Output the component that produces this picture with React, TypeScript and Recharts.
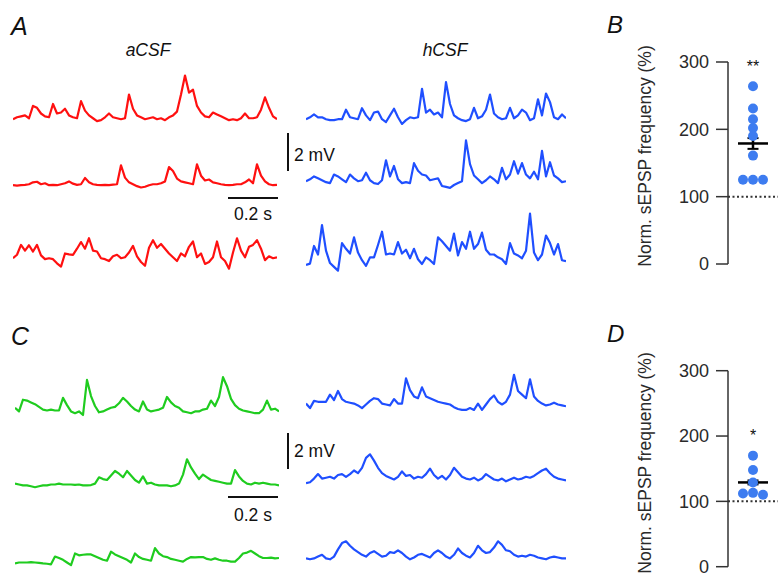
import React from "react";
import {
  LineChart,
  Line,
  XAxis,
  YAxis,
  ScatterChart,
  Scatter,
  ReferenceLine,
} from "recharts";

// ---------- Trace data (mV relative to baseline, 4 px per sample) ----------
const aCsfTrace1 = [0, 0.1, 0.15, 0.2, 0.05, 0.7, 0.6, 0.3, 0.15, 0.1, 0.8, 0.3, 0.35, 0.55, 0.2, 0.1, 0.05, 0.95, 0.45, 0.2, 0.05, -0.1, -0.05, 0.1, 0.3, 0.1, 0.05, 0, 0.05, 1.3, 0.55, 0.2, 0.1, 0, 0.05, 0.1, 0, 0.05, -0.05, 0.1, 0.2, 0.4, 1.3, 2.3, 1.4, 1.55, 0.7, 0.35, 0.15, 0.1, 0.35, 0.25, 0.15, 0.05, -0.05, 0, -0.05, 0.05, 0.3, 0.05, 0.05, 0.1, 0.5, 1.15, 0.6, 0.15, 0];
const aCsfTrace2 = [0, -0.02, 0, 0.02, 0.05, 0.15, 0.18, 0.05, 0.1, 0, 0.02, 0, 0.05, 0.1, 0.2, 0.08, 0.02, 0.05, 0.38, 0.15, 0.05, 0.02, 0, 0.02, 0, 0.03, 0.05, 1.05, 0.4, 0.15, 0.05, -0.05, -0.12, -0.08, 0, 0.05, 0.05, 0.1, 0.2, 0.95, 0.75, 0.35, 0.2, 0.15, 0.1, 0.05, 1.1, 0.5, 0.25, 0.3, 0.15, 0.1, 0.05, 0.02, 0, 0.02, 0.05, 0.05, 0.15, 0.3, 0.1, 1.1, 0.5, 0.2, 0.05, 0, 0.02];
const aCsfTrace3 = [0, 0.18, 0.7, 0.4, 0.68, 0.35, 0.7, 0.15, -0.05, 0, -0.05, -0.27, -0.44, 0.25, 0.2, 0.18, 0.5, 0.85, 0.5, 1.05, 0.4, 0.35, 0, -0.05, -0.15, 0.1, 0.18, 0, 0.05, 0.3, 0.65, 0.1, -0.2, -0.4, 0.55, 0.95, 0.55, 0.75, 0.5, 0.25, 0.05, -0.15, 0.25, 0.1, 0.6, 0.88, 0.05, 0.25, -0.3, -0.2, 0.05, 0.88, 0.05, -0.15, -0.55, 0.3, 1.05, 0.4, 0.05, 0.6, 0.7, 0.95, 0.5, -0.1, 0.1, 0, 0.05];

const hCsfTraceA1 = [0, 0.1, 0.25, 0.1, 0.1, 0, -0.05, -0.05, 0, 0, 0.5, 0.1, 0.05, 0, 0.58, 0.2, -0.05, 0.35, 0.4, 0, -0.15, 0.2, 0.55, 0.1, -0.25, -0.05, 0.1, 0.05, 0.1, 1.6, 0.35, 0.5, 0.25, 0.35, 0.1, 1.95, 0.8, 0.2, 0.05, -0.05, -0.1, 0, 0.6, 0.05, 0.15, 0.5, 1.3, 0.3, 0.1, 0, 0.05, 0.6, 0.05, 0.2, 0.5, 0.35, -0.05, 0.05, 1.05, 0.2, 1.35, 0.9, 0.1, 0, 0.25, 0.05];
const hCsfTraceA2 = [0, 0.1, 0.25, 0.15, 0.05, -0.05, -0.1, 0.35, 0.25, 0.1, -0.05, 0.35, 0.15, 0, 0.05, 0.45, 0.05, -0.1, -0.15, 0.05, 1.1, 0.25, 0.8, 0.1, -0.1, -0.05, -0.1, 0.95, 0.55, 0.35, 0.3, 0.05, 0.1, 0.15, -0.25, -0.3, -0.35, -0.2, -0.1, 0, 2.15, 0.9, 0.3, 0.1, -0.1, 0.05, 0.25, 0.1, -0.1, 0.7, 0.1, 0.35, 1.05, 0.4, 0.95, 0.35, 0.15, 0.5, 0.1, 1.6, 0.25, 1.0, 0.3, 0.15, -0.05, 0];
const hCsfTraceA3 = [-0.25, -0.18, 0.75, 0.3, 1.85, 0.5, -0.15, -0.35, -0.55, 0.9, 0.6, 0.35, 1.2, 0.4, 0, -0.3, 0.15, 0.15, 0.8, 1.5, 0.3, 0.35, 0.3, 0.95, 0.35, 0.55, 0.1, 0.6, 0.05, -0.2, 0.15, 0, -0.2, 1.2, 1.0, 0.75, 0.5, 1.4, 0.25, 0.95, 0.6, 1.5, 0.6, 0.85, 1.45, 0.55, 0.3, 0.3, 0.15, 0.05, -0.2, 0.9, 0.35, 0.25, 0.1, 0.5, 2.45, 0.4, 0, 0.3, 1.3, 0.9, 0.3, 0.85, 0, -0.05];

const ctrlTrace1 = [0.2, 0, 0.65, 0.6, 0.5, 0.4, 0.25, 0.1, 0.05, 0.1, 0.05, 0.05, 0.75, 0.35, 0, -0.1, 0, -0.2, 1.75, 0.85, 0.3, -0.05, 0, 0.1, 0.2, 0.25, 0.45, 0.75, 0.55, 0.3, 0.1, 0, 0.55, 0.1, 0, 0.05, 0.1, 0.2, 0.8, 0.5, 0.3, 0.2, 0, -0.05, -0.1, 0, 0, 0.1, 0.15, 0.6, 0.3, 0.8, 1.9, 1.4, 0.7, 0.35, 0.15, 0.05, 0, -0.05, -0.1, -0.1, 0.1, 0.6, 0.1, 0.15, 0];
const ctrlTrace2 = [0.1, 0.05, 0, 0, -0.05, -0.1, -0.05, 0, 0, 0.05, 0.05, 0.1, 0.05, 0.05, 0.05, 0.03, 0.05, 0, 0, 0.02, 0.1, 0.45, 0.35, 0.3, 0.55, 0.8, 0.65, 0.45, 0.8, 0.55, 0.3, 0.15, 0.5, 0.1, 0.15, 0.05, 0, 0, 0, -0.05, 0, 0.1, 0.6, 1.45, 1.0, 0.65, 0.35, 0.6, 0.45, 0.3, 0.25, 0.2, 0.15, 0.1, 0.1, 0.85, 0.5, 0.25, 0.1, 0.05, 0.15, 0.1, 0.15, 0.1, 0.05, 0.05, 0];
const ctrlTrace3 = [0, 0.05, 0.05, 0.05, 0.07, 0.05, 0.03, 0, -0.02, -0.05, 0.38, 0.3, 0.2, 0.05, -0.1, 0.55, 0.45, 0.48, 0.5, 0.5, 0.4, 0.3, 0.2, 0.15, 0.65, 0.5, 0.4, 0.3, 0.2, 0.05, 0.55, 0.35, 0.25, 0.2, 0.15, 0.85, 0.55, 0.4, 0.35, 0.25, 0.2, 0.15, 0.1, 0.25, 0.35, 0.33, 0.35, 0.35, 0.25, 0.2, 0.28, 0.2, 0.15, 0.15, 0.1, 0.1, 0.3, 0.55, 0.6, 0.7, 0.55, 0.4, 0.3, 0.3, 0.32, 0.28, 0.3];

const hCsfTraceC1 = [0.1, -0.15, 0.25, 0.2, 0.2, 0.2, 0.6, 0.3, 0.8, 0.35, 0.2, 0.15, 0.1, 0, -0.15, 0.05, 0.25, 0.4, 0.35, 0.1, 0.05, 0, 0.35, 0.1, 0.1, 1.5, 0.85, 0.5, 0.4, 1.0, 0.5, 0.4, 0.3, 0.2, 0.15, 0.1, 0.05, -0.1, -0.2, -0.25, -0.25, -0.15, -0.25, 0.1, -0.25, 0.05, 0.35, 0.55, 0.2, 0.05, 0.2, 0.6, 1.7, 0.8, 0.6, 0.4, 1.45, 0.5, 0.25, 0.1, 0, 0.05, 0.15, 0.05, 0, -0.05];
const hCsfTraceC2 = [-0.15, -0.1, 0.1, 0.35, 0.1, 0.15, 0.2, 0.1, 0.3, 0.35, 0.2, 0.35, 0.55, 0.4, 0.7, 1.25, 1.45, 1.1, 0.7, 0.4, 0.25, 0.15, 0.05, 0.2, 0.5, 0.25, 0.3, 0.1, 0.2, 0.15, 0.35, 0.65, 0.3, 0.1, 0.25, 0.05, 0.3, 0.7, 0.45, 0.2, 0.1, 0.05, 0.15, 0, 0.1, 0.35, 0.2, 0.05, 0, 0.1, -0.05, 0.05, 0.15, 0.05, 0.1, 0.2, 0.15, 0.25, 0.4, 0.55, 0.65, 0.4, 0.2, 0.1, 0.05, 0];
const hCsfTraceC3 = [0, -0.05, 0, 0.1, 0.2, 0, -0.05, 0.1, 0.5, 0.85, 0.95, 0.7, 0.5, 0.35, 0.2, 0.1, 0.3, 0.4, 0.25, 0.1, 0.15, 0.35, 0.3, 0.45, 0.3, 0.1, -0.05, 0.05, 0.2, 0.25, 0.15, 0.05, 0.3, 0.45, 0.3, 0.1, 0, 0.2, 0.55, 0.3, 0.15, 0.05, 0.3, 0.7, 0.45, 0.3, 0.35, 0.6, 0.95, 0.75, 0.45, 0.4, 0.2, 0.1, 0.15, 0.1, 0.2, 0.15, 0.05, 0, -0.05, 0.05, 0.1, 0.05, 0, 0];

// ---------- Summary data (normalised sEPSP frequency, %) ----------
const panelBValues = [264, 231, 215, 202, 190, 161, 125, 125, 125];
const panelBMean = 179;
const panelBSem = 8;
const panelBSignificance = "**";
const panelBSigLevel = 300;

const panelDValues = [170, 148, 129, 113, 112, 110];
const panelDMean = 129;
const panelDSem = 3;
const panelDSignificance = "*";
const panelDSigLevel = 207;

const yTicks = [0, 100, 200, 300];
const yAxisTitle = "Norm. sEPSP frequency (%)";

const RED = "#ff1010";
const BLUE = "#1f4fff";
const GREEN = "#1fcc1f";
const DOT = "#3d7cf0";
const FONT = "Arial, 'Liberation Sans', Helvetica, sans-serif";

const SAMPLE_PX = 4;

function Trace({ values, color, left, baseline, scale }: { values: number[]; color: string; left: number; baseline: number; scale: number }) {
  const lo = -1.2;
  const hi = 2.8;
  const height = (hi - lo) * scale;
  const top = baseline - hi * scale;
  const width = (values.length - 1) * SAMPLE_PX;
  const data = values.map((v, i) => ({ t: i, v }));
  return (
    <div style={{ position: "absolute", left, top, width, height }}>
      <LineChart width={width} height={height} data={data} margin={{ top: 0, right: 0, bottom: 0, left: 0 }} style={{ overflow: "visible" }}>
        <XAxis dataKey="t" type="number" domain={[0, values.length - 1]} hide />
        <YAxis type="number" domain={[lo, hi]} hide allowDataOverflow />
        <Line dataKey="v" type="linear" stroke={color} strokeWidth={2.2} dot={false} isAnimationActive={false} strokeLinejoin="round" />
      </LineChart>
    </div>
  );
}

// simple beeswarm: offset overlapping points sideways
function swarm(values: number[], pxPerUnit: number) {
  const offsets = [0, -0.4, 0.4, -0.8, 0.8];
  const placed: { x: number; y: number }[] = [];
  values.forEach((y) => {
    for (const o of offsets) {
      const clash = placed.some((p) => Math.abs(p.x - o) < 0.36 && Math.abs(p.y - y) * pxPerUnit < 6);
      if (!clash) {
        placed.push({ x: o, y });
        break;
      }
    }
  });
  return placed;
}

function SummaryPanel({ top, height, marginTop, marginBottom, values, mean, sem, sig, sigLevel, labelCenterY }: any) {
  const plotH = height - marginTop - marginBottom;
  const pts = swarm(values, plotH / 300);
  return (
    <div style={{ position: "absolute", left: 600, top, width: 182, height }}>
      <ScatterChart width={182} height={height} margin={{ top: marginTop, right: 4, bottom: marginBottom, left: 0 }} style={{ overflow: "visible" }}>
        <XAxis type="number" dataKey="x" domain={[-1, 1]} hide />
        <YAxis
          type="number"
          dataKey="y"
          domain={[0, 300]}
          ticks={yTicks}
          width={128}
          tickSize={12}
          tickMargin={7}
          axisLine={{ stroke: "#333", strokeWidth: 1.5 }}
          tickLine={{ stroke: "#333", strokeWidth: 1.5 }}
          tick={{ fontSize: 18, fill: "#2a2a2a", fontFamily: FONT }}
          label={{
            value: yAxisTitle,
            content: () => (
              <text
                x={45}
                y={labelCenterY}
                transform={`rotate(-90 45 ${labelCenterY})`}
                textAnchor="middle"
                dominantBaseline="central"
                fontSize={17.5}
                fill="#2a2a2a"
                fontFamily={FONT}
              >
                {yAxisTitle}
              </text>
            ),
          }}
        />
        <ReferenceLine y={100} stroke="#333" strokeWidth={2} strokeDasharray="2 2.5" />
        <Scatter data={pts} fill={DOT} isAnimationActive={false} shape={(p: any) => <circle cx={p.cx} cy={p.cy} r={5} fill={DOT} />} />
        <ReferenceLine segment={[{ x: -0.6, y: mean }, { x: 0.6, y: mean }]} stroke="#000" strokeWidth={2.5} />
        <ReferenceLine segment={[{ x: 0, y: mean - sem }, { x: 0, y: mean + sem }]} stroke="#000" strokeWidth={2.5} />
        <ReferenceLine segment={[{ x: -0.22, y: mean + sem }, { x: 0.22, y: mean + sem }]} stroke="#000" strokeWidth={2} />
        <ReferenceLine segment={[{ x: -0.22, y: mean - sem }, { x: 0.22, y: mean - sem }]} stroke="#000" strokeWidth={2} />
        <ReferenceLine
          segment={[{ x: -0.1, y: sigLevel }, { x: 0.1, y: sigLevel }]}
          stroke="none"
          label={{ value: sig, position: "center", fontSize: 16, fill: "#111", fontFamily: FONT, dy: 4 }}
        />
      </ScatterChart>
    </div>
  );
}

export default function App() {
  return (
    <div style={{ position: "absolute", left: 0, top: 0, width: 782, height: 588, background: "#fff", overflow: "hidden", fontFamily: FONT }}>
      {/* Panel A traces */}
      <Trace values={aCsfTrace1} color={RED} left={13} baseline={119.5} scale={19} />
      <Trace values={aCsfTrace2} color={RED} left={13} baseline={185} scale={19} />
      <Trace values={aCsfTrace3} color={RED} left={13} baseline={258.5} scale={19} />
      <Trace values={hCsfTraceA1} color={BLUE} left={306} baseline={119.5} scale={19} />
      <Trace values={hCsfTraceA2} color={BLUE} left={306} baseline={181.5} scale={19} />
      <Trace values={hCsfTraceA3} color={BLUE} left={306} baseline={260} scale={19} />
      {/* Panel C traces */}
      <Trace values={ctrlTrace1} color={GREEN} left={15} baseline={411.5} scale={18} />
      <Trace values={ctrlTrace2} color={GREEN} left={15} baseline={485} scale={18} />
      <Trace values={ctrlTrace3} color={GREEN} left={15} baseline={563.5} scale={18} />
      <Trace values={hCsfTraceC1} color={BLUE} left={306} baseline={405} scale={18} />
      <Trace values={hCsfTraceC2} color={BLUE} left={306} baseline={480} scale={18} />
      <Trace values={hCsfTraceC3} color={BLUE} left={306} baseline={558} scale={18} />

      {/* Panel B / D */}
      <SummaryPanel top={0} height={290} marginTop={62} marginBottom={26} values={panelBValues} mean={panelBMean} sem={panelBSem} sig={panelBSignificance} sigLevel={panelBSigLevel} labelCenterY={156} />
      <SummaryPanel top={300} height={288} marginTop={70.7} marginBottom={21.3} values={panelDValues} mean={panelDMean} sem={panelDSem} sig={panelDSignificance} sigLevel={panelDSigLevel} labelCenterY={163} />

      {/* Labels and scale bars */}
      <svg width={782} height={588} style={{ position: "absolute", left: 0, top: 0, pointerEvents: "none" }}>
        <g fontFamily={FONT} fill="#111">
          <text x={11} y={35} fontSize={25} fontStyle="italic">A</text>
          <text x={11} y={345} fontSize={25} fontStyle="italic">C</text>
          <text x={607} y={33} fontSize={24} fontStyle="italic">B</text>
          <text x={607} y={342} fontSize={24} fontStyle="italic">D</text>
          <text x={148} y={56} fontSize={17.5} fontStyle="italic" textAnchor="middle">aCSF</text>
          <text x={445} y={56} fontSize={17.5} fontStyle="italic" textAnchor="middle">hCSF</text>
          <text x={294} y={161} fontSize={17.5}>2 mV</text>
          <text x={253} y={220} fontSize={17.5} textAnchor="middle">0.2 s</text>
          <text x={294} y={457} fontSize={17.5}>2 mV</text>
          <text x={253} y={521} fontSize={17.5} textAnchor="middle">0.2 s</text>
        </g>
        <g stroke="#111" strokeWidth={2}>
          <line x1={288} y1={133} x2={288} y2={171} />
          <line x1={228} y1={198} x2={278} y2={198} />
          <line x1={288} y1={433} x2={288} y2={469} />
          <line x1={228} y1={497} x2={278} y2={497} />
        </g>
      </svg>
    </div>
  );
}
